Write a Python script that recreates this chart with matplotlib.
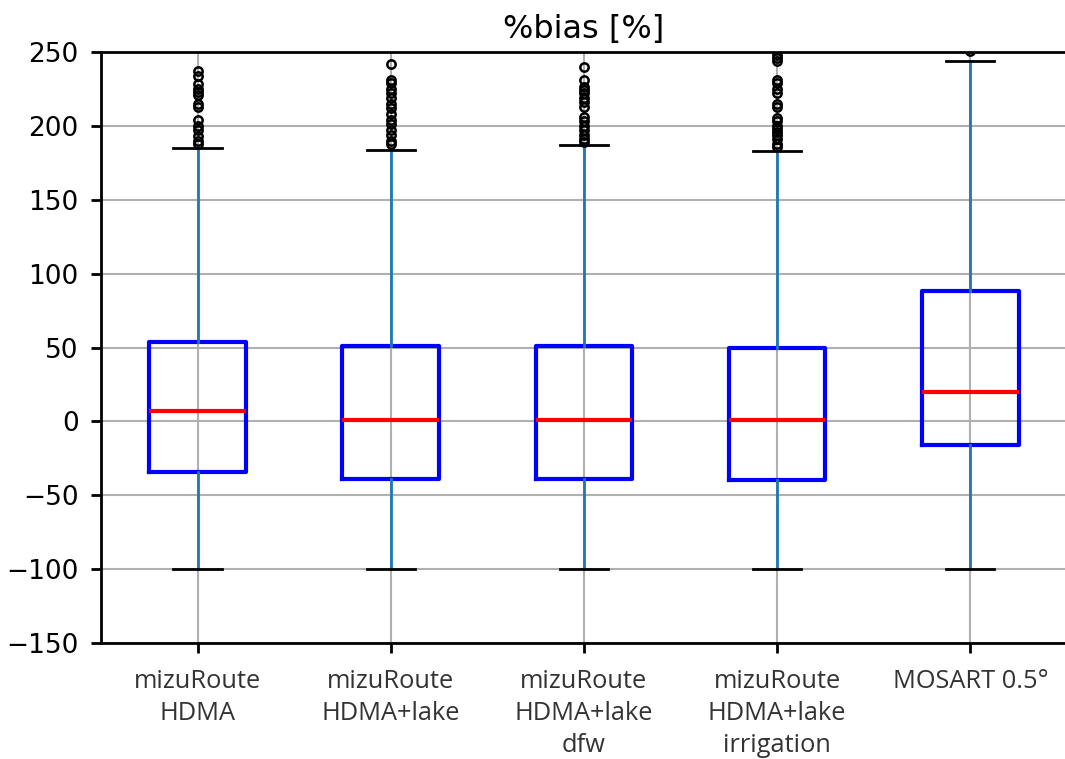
import numpy as np
import matplotlib.pyplot as plt

# categories and box statistics
labels = ['mizuRoute\nHDMA', 'mizuRoute\nHDMA+lake', 'mizuRoute\nHDMA+lake\ndfw',
          'mizuRoute\nHDMA+lake\nirrigation', 'MOSART 0.5°']
q1 = [-34, -39, -39, -40, -16]
med = [7, 1, 1, 1, 20]
q3 = [54, 51, 51, 50, 88]
whislo = [-100, -100, -100, -100, -100]
whishi = [185, 184, 187, 183, 244]
fliers = [
    [188, 190, 193, 197, 200, 204, 213, 215, 221, 223, 225, 228, 234, 237],
    [188, 190, 194, 197, 201, 204, 208, 212, 215, 219, 222, 225, 229, 231, 242],
    [189, 191, 194, 197, 200, 203, 206, 213, 216, 219, 222, 224, 226, 231, 240],
    [186, 188, 191, 194, 196, 198, 200, 203, 205, 213, 215, 222, 225, 229, 231, 244, 246, 248],
    [251],
]

stats = []
for i in range(len(labels)):
    stats.append(dict(label=labels[i], q1=q1[i], med=med[i], q3=q3[i],
                      whislo=whislo[i], whishi=whishi[i], fliers=np.array(fliers[i])))

fig = plt.figure(figsize=(10.65, 7.59), dpi=100)
ax = fig.add_axes([0.0948, 0.1528, 0.907, 0.7787])

ax.bxp(stats, widths=0.5,
       boxprops=dict(color='blue', linewidth=3),
       medianprops=dict(color='red', linewidth=3),
       whiskerprops=dict(color='#1f77b4', linewidth=2),
       capprops=dict(color='black', linewidth=2),
       flierprops=dict(marker='o', markerfacecolor='none', markeredgecolor='black',
                       markersize=6, markeredgewidth=1.8))

ax.set_ylim(-150, 250)
ax.set_xlim(0.5, 5.5)
ax.set_yticks(np.arange(-150, 251, 50))
ax.grid(True, color='#b0b0b0', linewidth=1.5)
ax.set_axisbelow(True)

for s in ax.spines.values():
    s.set_linewidth(2)
ax.tick_params(width=2, length=7, labelsize=19)
ax.tick_params(axis='y', pad=9)
ax.tick_params(axis='x', pad=12)
ax.set_xticklabels(labels, family='Open Sans', fontsize=18.3, color='#333333', linespacing=1.35)
ax.set_title('%bias [%]', fontsize=23, pad=10)

fig.savefig('out.png', dpi=100)
